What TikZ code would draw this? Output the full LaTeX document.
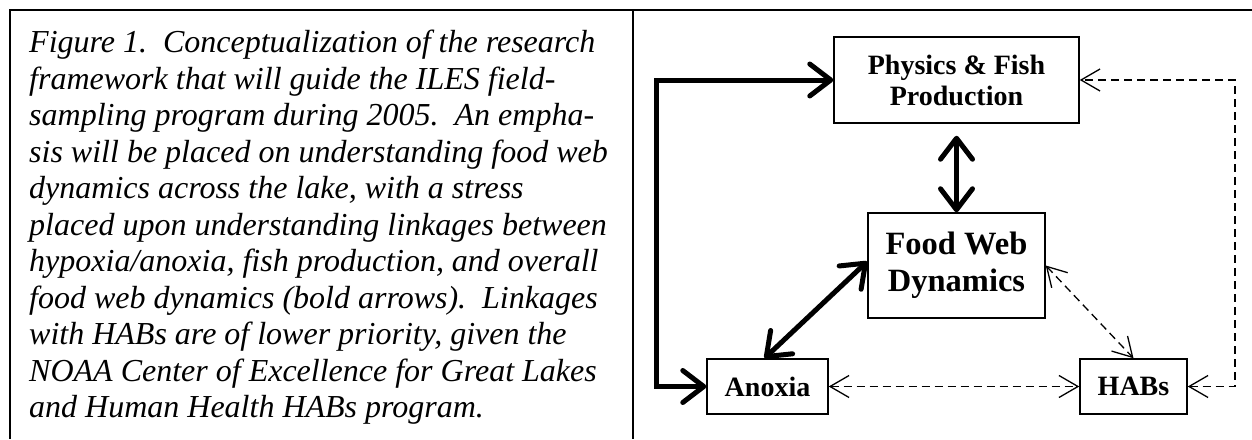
\documentclass[tikz,border=0pt]{standalone}
\usepackage{fontspec}
\setmainfont{Liberation Serif}
\usetikzlibrary{arrows.meta,positioning}

\begin{document}
\begin{tikzpicture}[x=1pt,y=-1pt,
		box/.style={draw, line width=1.5pt, inner sep=0pt, align=center},
		boldarrow/.style={line width=5pt, {Straight Barb[length=21pt,width=32pt,round]}-{Straight Barb[length=21pt,width=32pt,round]}},
		thinarrow/.style={line width=1.3pt, dash pattern=on 8pt off 5pt, {Straight Barb[length=19pt,width=22pt]}-{Straight Barb[length=19pt,width=22pt]}}]
		%%%%% START %%%%%
		
		\useasboundingbox (0, 0) rectangle (1252, 439);
		
		% frame
		\draw[line width=2pt] (9, 10) -- (1252, 10);
		\draw[line width=2pt] (10, 10) -- (10, 439);
		\draw[line width=2pt] (633, 10) -- (633, 439);
		
		% caption
		\node[anchor=north west, inner sep=0pt, align=left, font=\itshape\fontsize{32}{36.5}\selectfont] (caption) at (29, 30)
		{Figure 1.\ \ Conceptualization of the research\\
		framework that will guide the ILES field-\\
		sampling program during 2005.\ \ An empha-\\
		sis will be placed on understanding food web\\
		dynamics across the lake, with a stress\\
		placed upon understanding linkages between\\
		hypoxia/anoxia, fish production, and overall\\
		food web dynamics (bold arrows).\ \ Linkages\\
		with HABs are of lower priority, given the\\
		NOAA Center of Excellence for Great Lakes\\
		and Human Health HABs program.};
		
		% boxes
		\node[box, minimum width=245pt, minimum height=86pt, font=\bfseries\fontsize{28}{31}\selectfont] (phys) at (956.5, 80) {Physics \& Fish\\Production};
		\node[box, minimum width=177pt, minimum height=105pt, font=\bfseries\fontsize{32.5}{37}\selectfont] (food) at (956.5, 265.5) {Food Web\\Dynamics};
		\node[box, minimum width=121pt, minimum height=55pt, font=\bfseries\fontsize{28}{30}\selectfont] (anox) at (767.5, 386.5) {Anoxia};
		\node[box, minimum width=107pt, minimum height=55pt, font=\bfseries\fontsize{28}{30}\selectfont] (habs) at (1133.5, 386.5) {HABs};
		
		\coordinate (lcorner) at (656, 80);
		\coordinate (rcorner) at (1235, 80);
		
		% bold links
		\draw[boldarrow] (phys.west) -- (lcorner) |- (anox.west);
		\draw[boldarrow] ([yshift=-12pt]phys.south) -- (food.north);
		\draw[boldarrow] ([xshift=-3pt]anox.north) -- ([yshift=4pt]food.west);
		
		% dashed links
		\draw[thinarrow] (food.east) -- (habs.north);
		\draw[thinarrow] (anox.east) -- (habs.west);
		\draw[thinarrow] (habs.east) -| (rcorner) -- (phys.east);
		
		%%%%% END %%%%%
	\end{tikzpicture}
\end{document}
